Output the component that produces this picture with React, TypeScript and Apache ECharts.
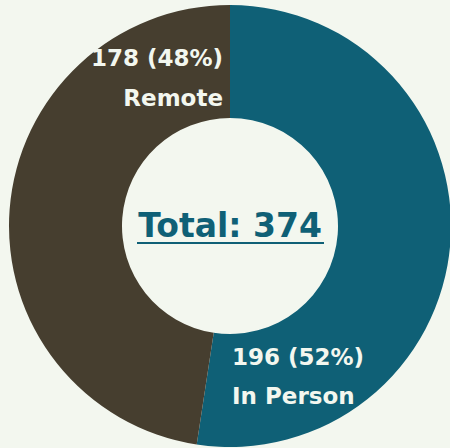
import React, { useEffect, useRef } from "react";
import * as echarts from "echarts";

const categories = ["In Person", "Remote"];
const values = [196, 178];
const colors = ["#0f6076", "#463e2f"];

export default function App() {
  const ref = useRef<HTMLDivElement>(null);
  useEffect(() => {
    if (!ref.current) return;
    const chart = echarts.init(ref.current, null, { renderer: "svg" });
    const total = values.reduce((a, b) => a + b, 0);
    const pct = values.map((v) => Math.round((v / total) * 100));
    const font = "'DejaVu Sans', sans-serif";
    const label = (text: string, x: number, y: number, align: string) => ({
      type: "text",
      z: 100,
      x,
      y,
      style: {
        text,
        align,
        verticalAlign: "middle",
        fill: "#f3f7ef",
        font: `bold 23px ${font}`,
      },
    });
    chart.setOption({
      animation: false,
      backgroundColor: "#f3f7ef",
      series: [
        {
          type: "pie",
          center: [230, 226],
          radius: [108, 221],
          startAngle: 90,
          clockwise: true,
          label: { show: false },
          labelLine: { show: false },
          itemStyle: { borderWidth: 0 },
          data: categories.map((c, i) => ({
            name: c,
            value: values[i],
            itemStyle: { color: colors[i] },
          })),
        },
      ],
      graphic: [
        {
          type: "text",
          z: 100,
          x: 230,
          y: 225,
          style: {
            text: `Total: ${total}`,
            align: "center",
            verticalAlign: "middle",
            fill: "#0f6076",
            font: `bold 33px ${font}`,
          },
        },
        {
          type: "line",
          z: 100,
          shape: { x1: 137, y1: 243, x2: 324, y2: 243 },
          style: { stroke: "#0f6076", lineWidth: 2 },
        },
        label(`${values[1]} (${pct[1]}%)`, 223, 58, "right"),
        label(categories[1], 223, 98, "right"),
        label(`${values[0]} (${pct[0]}%)`, 232, 357, "left"),
        label(categories[0], 232, 396, "left"),
      ],
    });
    return () => chart.dispose();
  }, []);
  return (
    <div
      ref={ref}
      style={{ position: "fixed", left: 0, top: 0, width: 450, height: 448 }}
    />
  );
}
